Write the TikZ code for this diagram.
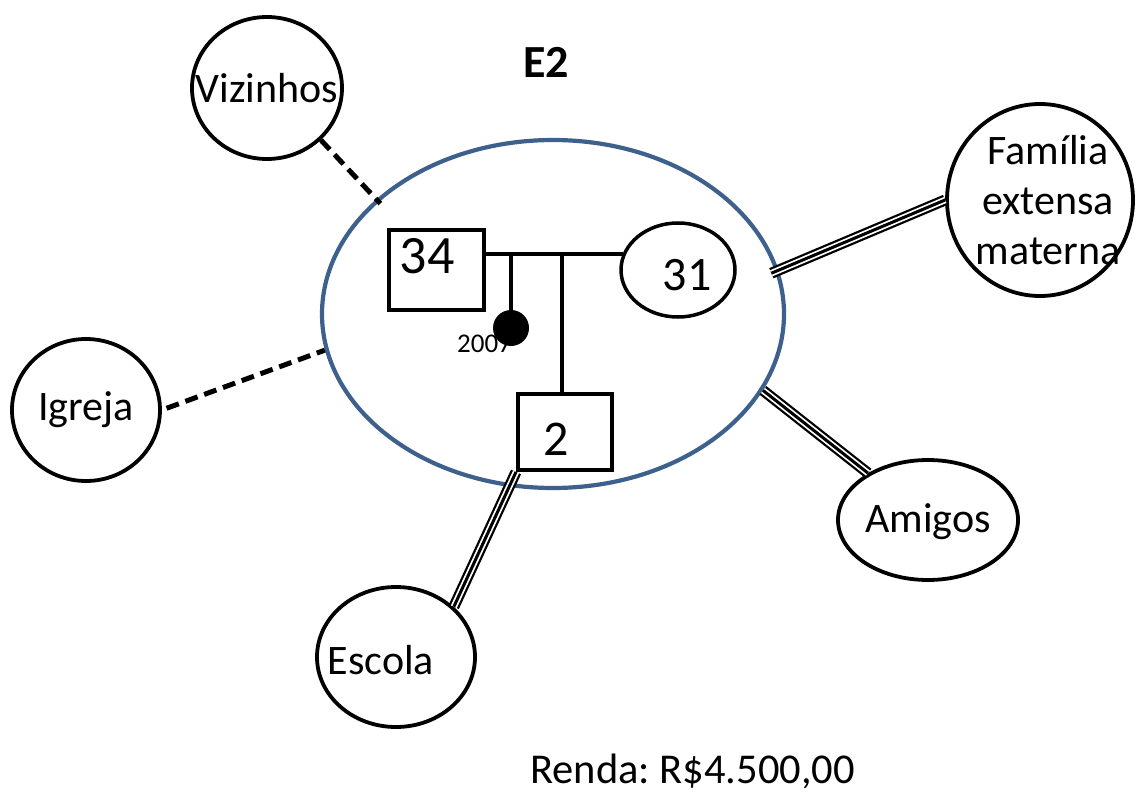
\documentclass[tikz,border=0pt]{standalone}
\usepackage{fontspec}
\setmainfont{Carlito}
\usetikzlibrary{shapes.geometric,calc}
\definecolor{ellblue}{RGB}{61,96,140}
\frenchspacing
\begin{document}
\begin{tikzpicture}[x=1pt,y=-1pt,
  every node/.style={inner sep=0pt},
  big/.style={font=\fontsize{42}{50}\selectfont},
  ring/.style={ellipse, draw, line width=3.8pt},
  sq/.style={rectangle, draw, line width=4pt},
  kin/.style={line width=3.5pt},
  weak/.style={line width=5pt, dash pattern=on 13pt off 7pt},
  strong/.style={draw=white, line width=6.5pt,
    preaction={draw=black, line width=11pt},
    postaction={draw=black, line width=3pt}},
  age/.style={font=\fontsize{#1}{56}\selectfont}]
\useasboundingbox (0,0) rectangle (1137,794);

% household
\node[ellipse, draw=ellblue, line width=4.2pt, minimum width=462, minimum height=348] (ell) at (553,314) {};

% outside systems (names set as centred labels so the rings keep their size)
\node[ring, minimum width=150, minimum height=142, label={[big]center:Vizinhos}] (viz) at (267,88) {};
\node[ring, minimum width=186, minimum height=192,
  label={[big, align=center, xshift=8pt]center:Família\\extensa\\materna}] (fam) at (1040,200) {};
\node[ring, minimum width=148, minimum height=142, label={[big]center:Igreja}] (igr) at (86,410) {};
\node[ring, minimum width=180, minimum height=120, label={[big, yshift=-2pt]center:Amigos}] (ami) at (928,520) {};
\node[ring, minimum width=158, minimum height=140, label={[big, xshift=-15pt, yshift=-3pt]center:Escola}] (esc) at (396,657) {};

% genogram
\node[sq, minimum width=95, minimum height=80] (sq34) at (436,270) {};
\node[age=54] (t34) at (427,256) {34};
\node[ellipse, draw, line width=3.5pt, minimum width=114, minimum height=94] (c31) at (678,270) {};
\node[age=48] (t31) at (687,275) {31};
\node[sq, minimum width=94, minimum height=76] (sq2) at (565,432) {};
\node[age=50] (t2) at (556,439) {2};
\node[anchor=base west, font=\fontsize{27}{30}\selectfont] (y07) at (457,352) {2007};

\coordinate (ml) at (486,254);
\coordinate (mr) at (623,254);
\draw[kin] (ml) -- (mr);
\draw[kin] (ml -| sq2.north) ++(-3,0) coordinate (cc) -- (cc |- sq2.north);
\node[circle, fill=black, minimum size=36] (dot) at (511,328) {};
\draw[kin] (ml -| dot) -- (dot);

% titles
\node[font=\bfseries\fontsize{46}{50}\selectfont] (ttl) at (546,62) {E2};
\node[anchor=base west, font=\fontsize{42.5}{48}\selectfont] (renda) at (530,783) {Renda: R\$4.500,00};

% ties
\draw[weak, shorten >=-6pt] (viz.-44) -- (ell.147);
\draw[weak, shorten <=5pt] (igr.0) -- (ell.189);
\draw[strong, shorten <=-8pt] (ell.11) -- (fam.180);
\draw[strong] (ell.-20) -- (ami.142);
\draw[strong] (sq2.south west) -- (esc.41);
\end{tikzpicture}
\end{document}
